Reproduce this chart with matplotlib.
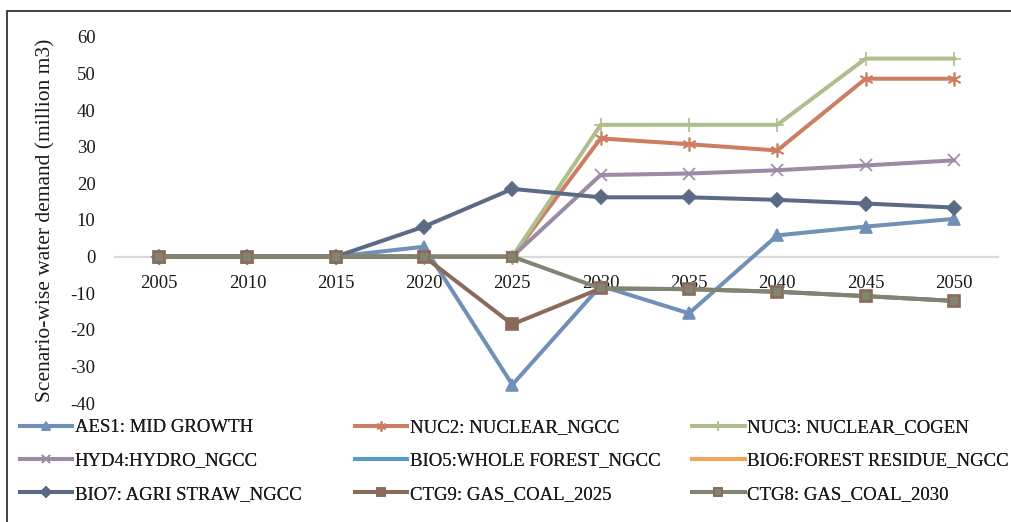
import matplotlib
matplotlib.use("Agg")
import matplotlib.pyplot as plt
from matplotlib.patches import Rectangle

plt.rcParams['font.family'] = ['Liberation Serif', 'DejaVu Serif']
plt.rcParams['axes.unicode_minus'] = False

years = ['2005', '2010', '2015', '2020', '2025', '2030', '2035', '2040', '2045', '2050']

aes1 = [0, 0, 0, 2.7, -35.0, -8.0, -15.5, 5.8, 8.2, 10.3]
nuc2 = [0, 0, 0, 0, 0, 32.3, 30.7, 29.0, 48.6, 48.6]
nuc3 = [0, 0, 0, 0, 0, 36.0, 36.0, 36.0, 54.1, 54.1]
hyd4 = [0, 0, 0, 0, 0, 22.3, 22.7, 23.6, 24.9, 26.3]
bio5 = [0, 0, 0, 0, 0, None, None, None, None, None]
bio6 = [0, 0, 0, 0, 0, None, None, None, None, None]
bio7 = [0, 0, 0, 8.2, 18.5, 16.2, 16.2, 15.5, 14.5, 13.4]
ctg9 = [0, 0, 0, 0, -18.5, -8.7, -8.9, -9.6, -10.8, -12.1]
ctg8 = [0, 0, 0, 0, 0, -8.7, -8.9, -9.6, -10.8, -12.1]

labels = ['AES1: MID GROWTH', 'NUC2: NUCLEAR_NGCC', 'NUC3: NUCLEAR_COGEN',
          'HYD4:HYDRO_NGCC', 'BIO5:WHOLE FOREST_NGCC', 'BIO6:FOREST RESIDUE_NGCC',
          'BIO7: AGRI STRAW_NGCC', 'CTG9: GAS_COAL_2025', 'CTG8: GAS_COAL_2030']

series = [aes1, nuc2, nuc3, hyd4, bio5, bio6, bio7, ctg9, ctg8]
colors = ['#7090B8', '#CC7E63', '#AFBE8D', '#9C8AA6', '#5B9BC8', '#F5A55A',
          '#5B6B86', '#8C6A5A', '#7F8571']
markers = ['^', (6, 2, 0), '+', 'x', None, None, 'D', 's', 's']
msizes = [9, 10, 10, 9, 0, 0, 7, 8.5, 7.5]
medges = ['#7090B8', '#CC7E63', '#AFBE8D', '#9C8AA6', '#5B9BC8', '#F5A55A',
          '#5B6B86', '#8C6A5A', '#8C6A5A']
zorders = [3, 3, 3, 3, 2, 2, 3, 3, 3]

fig = plt.figure(figsize=(10.12, 5.22), dpi=100)
ax = fig.add_axes([115 / 1012, 1 - 403 / 522, (998 - 115) / 1012, (403 - 37) / 522])

x = list(range(len(years)))
handles = []
for vals, c, m, ms, me, z, lab in zip(series, colors, markers, msizes, medges, zorders, labels):
    yv = [float('nan') if v is None else v for v in vals]
    h, = ax.plot(x, yv, color=c, lw=2.9, marker=m, markersize=ms,
                 markerfacecolor=c, markeredgecolor=me, markeredgewidth=1.2,
                 label=lab, solid_joinstyle='round', zorder=z)
    handles.append(h)

ax.set_xlim(-0.5, len(years) - 0.5)
ax.set_ylim(-40, 60)
ax.set_yticks(range(-40, 61, 10))
ax.set_xticks(x)
ax.set_xticklabels(years)

for s in ['top', 'right', 'left']:
    ax.spines[s].set_visible(False)
ax.spines['bottom'].set_position(('data', 0))
ax.spines['bottom'].set_color('#D9D9D9')
ax.spines['bottom'].set_linewidth(1.6)
ax.spines['bottom'].set_zorder(1)
ax.tick_params(axis='both', length=0, labelsize=13.5, colors='#1a1a1a')
ax.tick_params(axis='x', pad=13)
ax.tick_params(axis='y', pad=14)

fig.text(46 / 1012, 1 - 220 / 522, 'Scenario-wise water demand (million m3)',
         rotation=90, ha='center', va='center', fontsize=15.5, color='#1a1a1a')

# legend laid out row-wise in three fixed-width columns
col_x = [20 / 1012, 355 / 1012, 692 / 1012]
for ci in range(3):
    hs = [handles[ci + 3 * r] for r in range(3)]
    ls = [labels[ci + 3 * r] for r in range(3)]
    leg = fig.legend(hs, ls, loc='upper left', bbox_to_anchor=(col_x[ci], 1 - 419 / 522),
                     frameon=False, fontsize=13.5, handlelength=2.8, handletextpad=0.12,
                     labelspacing=0.87, borderaxespad=0, borderpad=0, markerscale=0.7)
    for t in leg.get_texts():
        t.set_color('#1a1a1a')
    fig.add_artist(leg)

# outer chart frame
fig.add_artist(Rectangle((7 / 1012, -0.05), 1.1, 1 - 11 / 522 + 0.05,
                         transform=fig.transFigure, fill=False,
                         edgecolor='#333333', lw=1.3))

fig.savefig('out.png', dpi=100)
